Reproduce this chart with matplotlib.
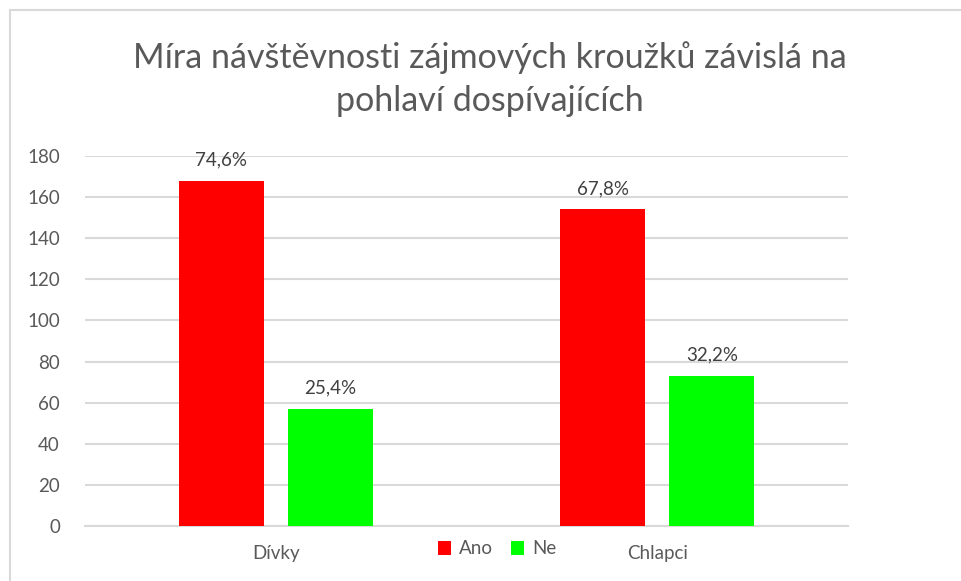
import numpy as np
import matplotlib.pyplot as plt
from matplotlib.patches import Rectangle

# data
categories = ["Dívky", "Chlapci"]
series_names = ["Ano", "Ne"]
ano_values = [168, 154]
ne_values = [57, 73]
ano_labels = ["74,6%", "67,8%"]
ne_labels = ["25,4%", "32,2%"]

plt.rcParams["font.family"] = ["Lato", "DejaVu Sans"]

fig = plt.figure(figsize=(9.61, 5.81), dpi=100)
ax = fig.add_axes([85 / 961, 1 - 526 / 581, 763 / 961, 370 / 581])

# outer chart frame (light gray)
fig.patches.append(Rectangle((10 / 961, -0.1), 1.2, (581 - 10) / 581 + 0.1,
                             transform=fig.transFigure, fill=False,
                             edgecolor="#d9d9d9", linewidth=1.5))

x = np.arange(len(categories))
w = 0.223
off = 0.143
b1 = ax.bar(x - off, ano_values, w, color="#ff0000", label=series_names[0], zorder=3)
b2 = ax.bar(x + off, ne_values, w, color="#00ff00", label=series_names[1], zorder=3)

for bars, labs in ((b1, ano_labels), (b2, ne_labels)):
    for b, t in zip(bars, labs):
        ax.text(b.get_x() + b.get_width() / 2, b.get_height() + 6, t,
                ha="center", va="bottom", fontsize=13.5, color="#404040")

ax.set_xlim(-0.5, 1.5)
ax.set_ylim(0, 180)
ax.set_yticks(range(0, 181, 20))
ax.set_xticks(x)
ax.set_xticklabels(categories)
ax.grid(axis="y", color="#d9d9d9", linewidth=1.5, zorder=0)
for s in ["top", "right", "left"]:
    ax.spines[s].set_visible(False)
ax.spines["bottom"].set_color("#d9d9d9")
ax.spines["bottom"].set_linewidth(1.5)
ax.tick_params(axis="both", length=0, labelsize=13.5, colors="#595959")
ax.tick_params(axis="y", pad=18)
ax.tick_params(axis="x", pad=14)

fig.text(490 / 961, 1 - 79 / 581, "Míra návštěvnosti zájmových kroužků závislá na\npohlaví dospívajících",
         ha="center", va="center", fontsize=24.5, color="#595959", linespacing=1.45)

ax.legend(loc="center", bbox_to_anchor=(497 / 961, 1 - 549 / 581),
          bbox_transform=fig.transFigure, ncol=2, frameon=False,
          fontsize=13.5, labelcolor="#595959", handlelength=0.7, handleheight=0.7,
          handletextpad=0.4, columnspacing=1.0)

fig.savefig("out.png", dpi=100)
